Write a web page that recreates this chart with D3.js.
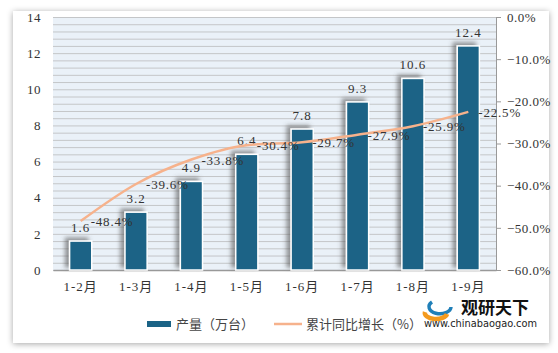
<!DOCTYPE html>
<html>
<head>
<meta charset="utf-8">
<script src="https://cdn.jsdelivr.net/npm/d3@7"></script>
<style>
  body { margin: 0; background: #fff; }
  svg text { font-family: "Liberation Serif", "Noto Sans CJK SC", serif; }
</style>
</head>
<body>
<div id="chart"></div>
<script>
// 数据
const months = ["1-2月", "1-3月", "1-4月", "1-5月", "1-6月", "1-7月", "1-8月", "1-9月"];
const output = [1.6, 3.2, 4.9, 6.4, 7.8, 9.3, 10.6, 12.4];
const growth = [-48.4, -39.6, -33.8, -30.4, -29.7, -27.9, -25.9, -22.5];
const leftTicks = [0, 2, 4, 6, 8, 10, 12, 14];
const rightTicks = [0, -10, -20, -30, -40, -50, -60];

const W = 558, H = 353;
const margin = { top: 17, right: 62, bottom: 83, left: 53 };
const width = W - margin.left - margin.right;
const height = H - margin.top - margin.bottom;

const svg = d3.select("#chart").append("svg")
  .attr("width", W)
  .attr("height", H);

const defs = svg.append("defs");
const card = defs.append("filter").attr("id", "card").attr("x", "-5%").attr("y", "-5%").attr("width", "110%").attr("height", "110%");
card.append("feDropShadow").attr("dx", 0).attr("dy", 1).attr("stdDeviation", 3).attr("flood-color", "#000").attr("flood-opacity", 0.35);
const sh = defs.append("filter").attr("id", "barShadow").attr("x", "-50%").attr("y", "-20%").attr("width", "200%").attr("height", "140%");
sh.append("feDropShadow").attr("dx", -4).attr("dy", -3).attr("stdDeviation", 2.2).attr("flood-color", "#555").attr("flood-opacity", 0.6);

// 卡片背景
svg.append("rect")
  .attr("x", 13).attr("y", 11).attr("width", 536).attr("height", 332)
  .attr("fill", "#fff")
  .attr("filter", "url(#card)");

const g = svg.append("g").attr("transform", `translate(${margin.left},${margin.top})`);

const x = d3.scaleBand().domain(months).range([0, width]).paddingInner(0.6).paddingOuter(0.3);
const y = d3.scaleLinear().domain([0, 14]).range([height, 0]);
const y2 = d3.scaleLinear().domain([-60, 0]).range([height, 0]);

g.append("rect").attr("width", width).attr("height", height).attr("fill", "#eaf1f8");

g.append("g")
  .selectAll("line")
  .data(d3.range(0, 14.01, 0.4))
  .join("line")
  .attr("x1", 0).attr("x2", width)
  .attr("y1", d => y(d) + 0.5).attr("y2", d => y(d) + 0.5)
  .attr("stroke", "#c4c6c8").attr("stroke-width", 1);

// 左轴
const yAxis = g.append("g")
  .call(d3.axisLeft(y).tickValues(leftTicks).tickSize(0).tickPadding(12));
yAxis.select(".domain").remove();
yAxis.selectAll("text").style("font-size", "13px").style("letter-spacing", "0.5px").attr("fill", "#333");

// 右轴
const y2Axis = g.append("g")
  .attr("transform", `translate(${width},0)`)
  .call(d3.axisRight(y2).tickValues(rightTicks).tickSize(5).tickPadding(6).tickFormat(d => d3.format(".1f")(d) + "%"));
y2Axis.select(".domain").attr("stroke", "#999");
y2Axis.selectAll(".tick line").attr("stroke", "#999");
y2Axis.selectAll("text").style("font-size", "13px").style("letter-spacing", "0.5px").attr("fill", "#333");

// 下轴
const xAxis = g.append("g")
  .attr("transform", `translate(0,${height})`)
  .call(d3.axisBottom(x).tickSize(0).tickPadding(12));
xAxis.select(".domain").attr("stroke", "#999").attr("stroke-width", 1.5);
xAxis.selectAll("text").style("font-size", "13px").style("letter-spacing", "1px").attr("fill", "#333");

// 柱子
g.selectAll(".bar")
  .data(output)
  .join("rect")
  .attr("class", "bar")
  .attr("x", (d, i) => x(months[i]))
  .attr("y", d => y(d))
  .attr("width", x.bandwidth())
  .attr("height", d => height - y(d))
  .attr("fill", "#1a6386")
  .attr("stroke", "#fff")
  .attr("stroke-width", 1.5)
  .attr("filter", "url(#barShadow)");

g.selectAll(".barLabel")
  .data(output)
  .join("text")
  .attr("class", "barLabel")
  .attr("x", (d, i) => x(months[i]) + x.bandwidth() / 2)
  .attr("y", d => y(d) - 9)
  .attr("text-anchor", "middle")
  .style("font-size", "13px")
  .style("letter-spacing", "1px")
  .attr("fill", "#333")
  .text(d => d.toFixed(1));

// 折线
const cx = i => x(months[i]) + x.bandwidth() / 2;
const line = d3.line()
  .x((d, i) => cx(i))
  .y(d => y2(d))
  .curve(d3.curveMonotoneX);

g.append("path")
  .datum(growth)
  .attr("d", line)
  .attr("fill", "none")
  .attr("stroke", "#f6b28c")
  .attr("stroke-width", 2.5);

g.selectAll(".lineLabel")
  .data(growth)
  .join("text")
  .attr("class", "lineLabel")
  .attr("x", (d, i) => cx(i) + 10)
  .attr("y", d => y2(d) + 5)
  .style("font-size", "13px")
  .style("letter-spacing", "0.8px")
  .attr("fill", "#333")
  .text(d => d.toFixed(1) + "%");

// 图例
const lg = svg.append("g").attr("transform", "translate(147,324)");
lg.append("rect").attr("x", 0).attr("y", -3).attr("width", 24).attr("height", 6).attr("fill", "#1a6386");
lg.append("text").attr("x", 29).attr("y", 5).style("font-size", "13px").style("font-family", "Noto Sans CJK SC").attr("fill", "#444").text("产量（万台）");
lg.append("line").attr("x1", 127).attr("x2", 155).attr("y1", 0).attr("y2", 0).attr("stroke", "#f6b28c").attr("stroke-width", 2.5);
lg.append("text").attr("x", 159).attr("y", 5).style("font-size", "13px").style("font-family", "Noto Sans CJK SC").attr("fill", "#444").text("累计同比增长（%）");

// 水印
const wm = svg.append("g").attr("transform", "translate(423,297)");
wm.append("path").attr("d", "M9,5 A11,7 0 1 0 28,10").attr("fill", "none").attr("stroke", "#1f7fb8").attr("stroke-width", 3.5);
wm.append("path").attr("d", "M2,15 A11,6 0 0 0 24,17").attr("fill", "none").attr("stroke", "#f39a1e").attr("stroke-width", 4.5);
wm.append("text").attr("x", 38).attr("y", 17)
  .style("font-family", "Noto Sans CJK SC").style("font-weight", "bold").style("font-size", "17px")
  .attr("fill", "#111").text("观研天下");
wm.append("text").attr("x", 1).attr("y", 30)
  .attr("textLength", 113).attr("lengthAdjust", "spacingAndGlyphs")
  .style("font-family", "DejaVu Sans").style("font-size", "10px")
  .attr("fill", "#222").text("www.chinabaogao.com");
</script>
</body>
</html>
